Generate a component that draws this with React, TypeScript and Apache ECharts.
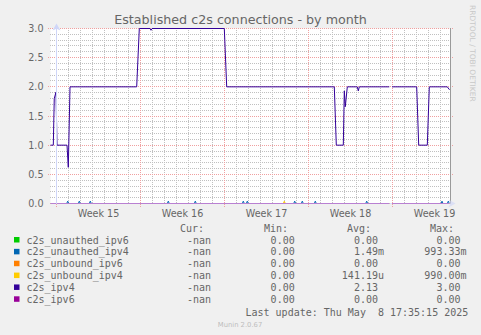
import React, { useEffect, useRef } from "react";
import * as echarts from "echarts";

// ---------- data ----------
const TITLE = "Established c2s connections - by month";
const CREDIT = "RRDTOOL / TOBI OETIKER";
const FOOTER = "Munin 2.0.67";
const LAST_UPDATE = "Last update: Thu May\u00A0 8 17:35:15 2025";

// x values are hours since Sunday 2025-04-06 00:00
const X_MIN = -12;
const X_MAX = 788;
const WEEK_LABELS = ["Week 15", "Week 16", "Week 17", "Week 18", "Week 19"];
const WEEK_LABEL_HOURS = [84, 252, 420, 588, 756];
const WEEK_START_HOURS = [0, 168, 336, 504, 672];
const DAY_GRID_HOURS = [
  24, 48, 72, 96, 120, 144, 192, 216, 240, 264, 288, 312, 360, 384, 408, 432, 456, 480,
  528, 552, 576, 600, 624, 648, 696, 720, 744, 768,
];
const Y_MAJOR = [0.5, 1.0, 1.5, 2.0, 2.5, 3.0];
const Y_MINOR = [
  0.1, 0.2, 0.3, 0.4, 0.6, 0.7, 0.8, 0.9, 1.1, 1.2, 1.3, 1.4, 1.6, 1.7, 1.8, 1.9,
  2.1, 2.2, 2.3, 2.4, 2.6, 2.7, 2.8, 2.9,
];
const END_RULE_HOUR = 787;
const DATA_END_HOUR = 786;
const GAP_HOURS = [665.6, 668, 671]; // last before gap, gap, first after gap

const SERIES_NAMES = [
  "c2s_unauthed_ipv6",
  "c2s_unauthed_ipv4",
  "c2s_unbound_ipv6",
  "c2s_unbound_ipv4",
  "c2s_ipv4",
  "c2s_ipv6",
];
const SERIES_COLORS = ["#00CC00", "#0066B3", "#FF8000", "#FFCC00", "#330099", "#990099"];
const CUR_VALUES = ["-nan", "-nan", "-nan", "-nan", "-nan", "-nan"];
const MIN_VALUES = ["0.00", "0.00", "0.00", "0.00", "0.00", "0.00"];
const AVG_VALUES = ["0.00", "1.49m", "0.00", "141.19u", "2.13", "0.00"];
const MAX_VALUES = ["0.00", "993.33m", "0.00", "990.00m", "3.00", "0.00"];

// c2s_ipv4 trace (hours, connections)
const IPV4_HOURS = [
  -12, -6.4, -4.5, -1, 1, 21, 23.6, 27, 160.4, 165.6, 187, 189, 191, 335.6, 340.4,
  555.6, 559.6, 573.6, 575.6, 577.6, 581.6, 601.6, 603.6, 605.6, 665.6, 668, 671,
  720.4, 724.4, 741.6, 745.6, 781.6, 786,
];
const IPV4_VALUES = [
  1, 1, 1.8, 1.91, 1, 1, 0.62, 2, 2, 3, 3, 2.97, 3, 3, 2,
  2, 1, 1, 1.93, 1.66, 2, 2, 1.93, 2, 2, null, 2,
  2, 1, 1, 2, 2, 1.95,
];

// small blips on otherwise-zero series (hours, height)
const UNAUTHED_IPV4_BLIPS = [22.4, 45.6, 67.6, 223.6, 277.6, 373.6, 381.6, 476.4, 491.6, 517.6, 620.4, 771, 783.6];
const UNAUTHED_IPV4_BLIP_VALUE = 0.04;
const UNBOUND_IPV4_BLIPS = [455.6];
const UNBOUND_IPV4_BLIP_VALUE = 0.04;

// ---------- helpers ----------
function zeroTrace(blips: number[], h: number): (number | null)[][] {
  const pts: (number | null)[][] = [
    [X_MIN, 0],
    [GAP_HOURS[0], 0],
    [GAP_HOURS[1], null],
    [GAP_HOURS[2], 0],
    [DATA_END_HOUR, 0],
  ];
  blips.forEach((t) => {
    pts.push([t - 2, 0], [t, h], [t + 2, 0]);
  });
  pts.sort((a, b) => (a[0] as number) - (b[0] as number));
  return pts;
}

const FONT = "DejaVu Sans, sans-serif";
const MONO = "DejaVu Sans Mono, monospace";
const TXT = "#666666";
const MINOR = "#c0c0c0";
const MAJOR = "#f0a0a0";

const crisp = (v: number) => Math.round(v - 0.5) + 0.5;

function vRules(name: string, hours: number[], color: string, dash: number[] | null, below: number) {
  return {
    type: "custom",
    name,
    z: 1,
    silent: true,
    clip: false,
    data: hours.map((h) => [h, 0]),
    encode: { x: 0, y: 1 },
    renderItem: (params: any, api: any) => {
      const cs = params.coordSys;
      const x = crisp(api.coord([api.value(0), 0])[0]);
      const top = Math.floor(cs.y);
      return {
        type: "line",
        silent: true,
        shape: { x1: x, y1: top, x2: x, y2: Math.ceil(cs.y + cs.height) + below },
        style: { stroke: color, lineWidth: 1, lineDash: dash || undefined },
      };
    },
  };
}

function hRules(name: string, values: number[], color: string, ext: number) {
  return {
    type: "custom",
    name,
    z: 1,
    silent: true,
    clip: false,
    data: values.map((v) => [X_MIN, v]),
    encode: { x: 0, y: 1 },
    renderItem: (params: any, api: any) => {
      const cs = params.coordSys;
      const y = crisp(api.coord([X_MIN, api.value(1)])[1]);
      const left = Math.floor(cs.x) - ext;
      return {
        type: "line",
        silent: true,
        shape: { x1: left, y1: y, x2: Math.ceil(cs.x + cs.width) + ext, y2: y },
        style: { stroke: color, lineWidth: 1, lineDash: [1, 1] },
      };
    },
  };
}

export default function App() {
  const ref = useRef<HTMLDivElement>(null);

  useEffect(() => {
    if (!ref.current) return;
    const chart = echarts.init(ref.current, undefined, { renderer: "svg" });

    const lineSeries = (i: number, data: any[]) => ({
      type: "line",
      name: SERIES_NAMES[i],
      data,
      symbol: "none",
      showSymbol: false,
      connectNulls: false,
      z: 3,
      lineStyle: { color: SERIES_COLORS[i], width: 1 },
      itemStyle: { color: SERIES_COLORS[i] },
      emphasis: { disabled: true },
    });

    const graphics: any[] = [];
    graphics.push({
      type: "text",
      x: 240.5,
      y: 19,
      style: { text: TITLE, font: `12.7px ${FONT}`, fill: TXT, textAlign: "center", textVerticalAlign: "middle" },
    });
    graphics.push({
      type: "text",
      x: 472,
      y: 5,
      rotation: -Math.PI / 2,
      style: { text: CREDIT, font: `7.5px ${FONT}`, fill: "#c8c8c8", textAlign: "left", textVerticalAlign: "middle" },
    });
    graphics.push({
      type: "text",
      x: 240,
      y: 324.5,
      style: { text: FOOTER, font: `6.8px ${FONT}`, fill: "#bdbdbd", textAlign: "center", textVerticalAlign: "middle" },
    });
    const headers: [string, number][] = [["Cur:", 204], ["Min:", 288], ["Avg:", 371], ["Max:", 454]];
    headers.forEach(([t, x]) =>
      graphics.push({
        type: "text",
        x,
        y: 228.5,
        style: { text: t, font: `10px ${MONO}`, fill: TXT, textAlign: "right", textVerticalAlign: "middle" },
      })
    );
    const unitAware = (s: string, right: number) => (/[0-9]$/.test(s) ? right - 6 : right);
    SERIES_NAMES.forEach((name, i) => {
      const cy = 240 + i * 11.86;
      graphics.push({
        type: "rect",
        shape: { x: 14, y: cy - 3, width: 5.5, height: 5.5 },
        style: { fill: SERIES_COLORS[i] },
      });
      const cells: [string, number, string][] = [
        [name, 26.5, "left"],
        [CUR_VALUES[i], 211, "right"],
        [MIN_VALUES[i], 294.7, "right"],
        [AVG_VALUES[i], unitAware(AVG_VALUES[i], 384), "right"],
        [MAX_VALUES[i], unitAware(MAX_VALUES[i], 466.5), "right"],
      ];
      cells.forEach(([t, x, align]) =>
        graphics.push({
          type: "text",
          x,
          y: cy,
          style: { text: t, font: `10px ${MONO}`, fill: TXT, textAlign: align, textVerticalAlign: "middle" },
        })
      );
    });
    graphics.push({
      type: "text",
      x: 245.5,
      y: 312.3,
      style: { text: LAST_UPDATE, font: `10px ${MONO}`, fill: TXT, textAlign: "left", textVerticalAlign: "middle" },
    });

    chart.setOption({
      animation: false,
      backgroundColor: "#f0f0f0",
      grid: {
        left: 50.5,
        right: 30.5,
        top: 28.5,
        bottom: 131.5,
        show: true,
        backgroundColor: "#ffffff",
        borderWidth: 0,
      },
      xAxis: {
        type: "value",
        min: X_MIN,
        max: X_MAX,
        interval: 12,
        z: 5,
        axisLine: {
          show: true,
          onZero: true,
          lineStyle: { color: "rgba(207,214,248,0.6)", width: 1 },
          symbol: ["none", "arrow"],
          symbolSize: [6, 7],
          symbolOffset: [0, 5],
        },
        axisTick: { show: false },
        splitLine: { show: false },
        axisLabel: {
          show: true,
          margin: 5,
          color: TXT,
          fontSize: 9.6,
          fontFamily: FONT,
          formatter: (v: number) => {
            const idx = WEEK_LABEL_HOURS.indexOf(v);
            return idx >= 0 ? WEEK_LABELS[idx] : "";
          },
        },
      },
      yAxis: {
        type: "value",
        min: 0,
        max: 3,
        interval: 0.5,
        z: 5,
        axisLine: {
          show: true,
          lineStyle: { color: "#CFD6F8", width: 1 },
          symbol: ["none", "arrow"],
          symbolSize: [6, 7],
          symbolOffset: [0, 5],
        },
        axisTick: { show: false },
        axisLabel: {
          color: TXT,
          fontSize: 9.6,
          fontFamily: FONT,
          margin: 7,
          formatter: (v: number) => v.toFixed(1),
        },
        splitLine: { show: false },
      },
      series: [
        hRules("yMinorGrid", Y_MINOR, MINOR, 0),
        vRules("dayGrid", DAY_GRID_HOURS, MINOR, [1, 1], 0),
        hRules("yMajorGrid", Y_MAJOR, MAJOR, 2),
        vRules("weekGrid", WEEK_START_HOURS, MAJOR, [1, 1], 3),
        vRules("endRule", [END_RULE_HOUR], "#9a9a9a", null, 0),
        lineSeries(0, zeroTrace([], 0)),
        lineSeries(1, zeroTrace(UNAUTHED_IPV4_BLIPS, UNAUTHED_IPV4_BLIP_VALUE)),
        lineSeries(2, zeroTrace([], 0)),
        lineSeries(3, zeroTrace(UNBOUND_IPV4_BLIPS, UNBOUND_IPV4_BLIP_VALUE)),
        lineSeries(4, IPV4_HOURS.map((h, i) => [h, IPV4_VALUES[i]])),
        lineSeries(5, zeroTrace([], 0)),
      ],
      graphic: graphics,
    });

    return () => chart.dispose();
  }, []);

  return (
    <div
      ref={ref}
      style={{ position: "fixed", left: 0, top: 0, width: 481, height: 335 }}
    />
  );
}
